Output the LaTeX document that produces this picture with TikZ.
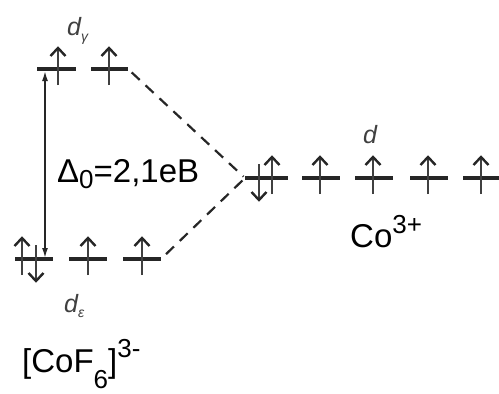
\documentclass[tikz,border=0pt]{standalone}
\usepackage{fontspec}
\setmainfont{Liberation Sans}
\usetikzlibrary{arrows.meta}
\tikzset{
  lev/.style={line width=3.2pt, draw=black!85},
  spin/.style={line width=1.4pt, draw=black!75},
  chev/.style={line width=2.4pt, draw=black!85, line join=miter},
  dashline/.style={line width=2.2pt, draw=black!85, dash pattern=on 11pt off 8pt},
  gap/.style={line width=1.6pt, draw=black!85, {Latex[length=10pt,width=6pt]}-{Latex[length=10pt,width=6pt]}},
  pics/spinup/.style={code={
    \draw[spin] (0,16) -- (0,-21);
    \draw[chev] (-7.5,-13) -- (0,-21) -- (7.5,-13);}},
  pics/spindown/.style={code={
    \draw[spin] (0,-14) -- (0,22);
    \draw[chev] (-7.5,14) -- (0,22) -- (7.5,14);}},
  big/.style={font=\fontsize{33}{36}\selectfont, text=black, inner sep=0pt},
  orb/.style={font=\fontsize{25}{27}\selectfont\itshape, text=black!75, inner sep=0pt},
}
\begin{document}
\begin{tikzpicture}[x=1pt,y=-1pt]
\path[use as bounding box, fill=white] (0,0) rectangle (499,394);
% upper d_gamma levels
\coordinate (ga1) at (37,69);  \coordinate (gb1) at (76,69);
\coordinate (ga2) at (91,69);  \coordinate (gb2) at (128,69);
% lower d_epsilon levels
\coordinate (ea1) at (15,259);  \coordinate (eb1) at (53,259);
\coordinate (ea2) at (69,259);  \coordinate (eb2) at (107,259);
\coordinate (ea3) at (123,259); \coordinate (eb3) at (161,259);
% Co3+ levels
\coordinate (ca1) at (245,178); \coordinate (cb1) at (288,178);
\coordinate (ca2) at (302,178); \coordinate (cb2) at (340,178);
\coordinate (ca3) at (355,178); \coordinate (cb3) at (393,178);
\coordinate (ca4) at (410,178); \coordinate (cb4) at (448,178);
\coordinate (ca5) at (463,178); \coordinate (cb5) at (499,178);
\foreach \a/\b in {ga1/gb1,ga2/gb2,ea1/eb1,ea2/eb2,ea3/eb3,ca1/cb1,ca2/cb2,ca3/cb3,ca4/cb4,ca5/cb5}
  \draw[lev] (\a) -- (\b);
% spins
\pic at (58,69) {spinup};
\pic at (109,69) {spinup};
\pic at (22,259) {spinup};
\pic at (36,259) {spindown};
\pic at (88,259) {spinup};
\pic at (142,259) {spinup};
\pic at (259,178) {spindown};
\pic at (272,178) {spinup};
\pic at (320,178) {spinup};
\pic at (373,178) {spinup};
\pic at (428,178) {spinup};
\pic at (481,178) {spinup};
% correlation lines
\draw[dashline, shorten <=5pt, shorten >=2pt] (gb2) -- (ca1);
\draw[dashline, shorten <=7pt, shorten >=2pt] (eb3) -- (ca1);
% splitting arrow
\coordinate (dtop) at (45,71);
\coordinate (dbot) at (45,258);
\draw[gap] (dtop) -- (dbot);
% labels
\node[big, anchor=base west] (delta) at (57,182) {Δ\raisebox{-6pt}{\fontsize{26}{28}\selectfont 0}=2,1eB};
\node[big, anchor=base west] (cof) at (22,372) {[CoF\raisebox{-16pt}{\fontsize{26}{28}\selectfont 6}]\raisebox{15pt}{\fontsize{26}{28}\selectfont 3-}};
\node[big, anchor=base west] (co) at (350,247) {Co\raisebox{14pt}{\fontsize{26}{28}\selectfont 3+}};
\node[orb, anchor=base west] (dg) at (67,35) {d\raisebox{-6pt}{\fontsize{14}{15}\selectfont γ}};
\node[orb, anchor=base west] (de) at (64,312) {d\raisebox{-5pt}{\fontsize{14}{15}\selectfont ε}};
\node[orb, anchor=base west] (dd) at (363,143) {d};
\end{tikzpicture}
\end{document}
